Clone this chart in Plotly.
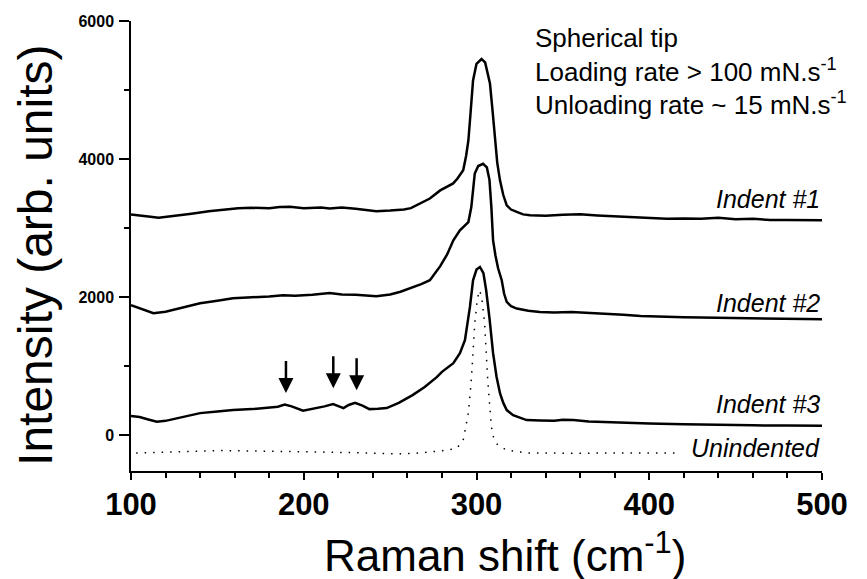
import plotly.graph_objects as go

# Raman spectra (intensity, arb. units) after indentation with a spherical tip
indent1_x = [100, 105, 110, 116, 125, 135, 145, 155, 162, 170, 180, 186, 192, 200, 210, 215, 222, 230,
             242, 250, 258, 262, 267, 273, 279, 283, 286.5, 289, 292.3, 294, 295.3, 296.5, 298, 300,
             302.9, 305, 307.8, 309.3, 310.7, 312, 313.6, 315.5, 317.5, 320, 323.3, 327, 331, 340,
             350, 360, 370, 380, 390, 400, 410, 420, 430, 440, 450, 460, 470, 480, 490, 500]
indent1_y = [3200, 3190, 3170, 3150, 3175, 3210, 3245, 3270, 3290, 3295, 3290, 3305, 3310, 3290, 3300,
             3285, 3300, 3280, 3245, 3255, 3270, 3290, 3350, 3430, 3547, 3600, 3648, 3720, 3840, 4050,
             4270, 4650, 5138, 5380, 5450, 5400, 5094, 4700, 4270, 3950, 3692, 3480, 3330, 3270, 3235,
             3200, 3186, 3180, 3195, 3200, 3185, 3170, 3160, 3145, 3135, 3140, 3135, 3150, 3130, 3135,
             3120, 3118, 3115, 3114]

indent2_x = [100, 105, 110, 113, 120, 130, 140, 150, 159, 170, 180, 188, 195, 205, 215, 222, 230, 242,
             250, 256, 262, 268, 273, 279, 283, 286.6, 290.4, 293, 295.3, 297, 299, 301, 303.8, 306,
             307.5, 308.6, 309.6, 311, 312.5, 314.6, 316, 317.5, 320, 323.3, 330, 336.7, 345, 355, 365,
             375, 385, 395, 405, 412, 420, 430, 440, 450, 460, 470, 480, 490, 500]
indent2_y = [1884, 1840, 1790, 1768, 1790, 1850, 1913, 1950, 1985, 2000, 2010, 2029, 2020, 2035, 2060,
             2040, 2035, 2015, 2040, 2080, 2130, 2190, 2246, 2450, 2620, 2824, 2969, 3030, 3089, 3306,
             3792, 3900, 3933, 3880, 3700, 3306, 2824, 2600, 2420, 2246, 2050, 1932, 1870, 1836, 1805,
             1787, 1780, 1785, 1775, 1760, 1745, 1730, 1720, 1711, 1712, 1705, 1700, 1695, 1693, 1690,
             1688, 1684, 1682]

indent3_x = [100, 105, 110, 115, 120, 130, 140, 150, 159, 170, 178.5, 185, 189, 193, 199.6, 205, 212,
             217, 223, 226, 229.7, 234, 238, 243, 248, 255, 263, 270, 277, 280, 286.6, 290.4, 293.3,
             296.2, 298, 300, 302, 304, 305.6, 307.5, 309.6, 311.6, 313.6, 315.5, 317.5, 321.2, 325,
             329, 337, 345, 350, 356, 365, 381, 400, 420, 441, 460, 480, 500]
indent3_y = [279, 265, 230, 197, 210, 270, 322, 345, 366, 380, 395, 415, 445, 420, 356, 380, 420, 453,
             395, 440, 472, 430, 380, 385, 395, 470, 583, 700, 843, 920, 1045, 1190, 1378, 1860, 2246,
             2400, 2438, 2350, 2101, 1700, 1190, 850, 611, 470, 366, 293, 260, 221, 215, 210, 225, 221,
             200, 182, 170, 160, 149, 145, 142, 139]

unindented_x = [103, 110, 120, 130, 140, 150, 160, 170, 180, 190, 200, 210, 220, 230, 240, 254, 265,
                275, 283, 288.7, 292.3, 295.3, 297, 299, 300.5, 301.8, 303, 304.7, 306.5, 308.6, 310,
                312.3, 317.5, 329, 340, 360, 380, 400, 415]
unindented_y = [-256, -250, -245, -235, -222, -220, -222, -225, -232, -237, -237, -240, -245, -250,
                -258, -270, -260, -240, -215, -185, -68, 322, 799, 1623, 1980, 2101, 2000, 1623, 799,
                125, -50, -140, -213, -256, -260, -258, -256, -255, -256]

# weak features marked with arrows on the Indent #3 spectrum
arrow_x = [189.7, 217.1, 230.6]
arrow_y = [612, 684, 655]

x_ticks = [100, 200, 300, 400, 500]
y_ticks = [0, 2000, 4000, 6000]

FONT = "Liberation Sans, Arial, sans-serif"

fig = go.Figure()
solid = dict(color="black", width=2.5)
fig.add_trace(go.Scatter(x=indent1_x, y=indent1_y, mode="lines", line=solid, name="Indent #1"))
fig.add_trace(go.Scatter(x=indent2_x, y=indent2_y, mode="lines", line=solid, name="Indent #2"))
fig.add_trace(go.Scatter(x=indent3_x, y=indent3_y, mode="lines", line=solid, name="Indent #3"))
fig.add_trace(go.Scatter(x=unindented_x, y=unindented_y, mode="lines",
                         line=dict(color="black", width=1.5, dash="1.5px,7px"), name="Unindented"))

annotations = []

# curve labels
for txt, yv in [("Indent #1", 3417), ("Indent #2", 1920), ("Indent #3", 453), ("Unindented", -176)]:
    annotations.append(dict(x=500, y=yv, xref="x", yref="y", text=f"<i>{txt}</i>", showarrow=False,
                            xanchor="right", yanchor="middle",
                            font=dict(family=FONT, size=25, color="black")))

# measurement conditions
for txt, yp in [("Spherical tip", 0.963),
                ("Loading rate &gt; 100 mN.s<sup>-1</sup>", 0.889),
                ("Unloading rate ~ 15 mN.s<sup>-1</sup>", 0.8156)]:
    annotations.append(dict(x=0.582, y=yp, xref="paper", yref="paper", text=txt, showarrow=False,
                            xanchor="left", yanchor="middle",
                            font=dict(family=FONT, size=26, color="black")))

# arrows
for xa, ya in zip(arrow_x, arrow_y):
    annotations.append(dict(x=xa, y=ya, xref="x", yref="y", text=" ", showarrow=True,
                            arrowhead=2, arrowsize=1.2, arrowwidth=2.5, arrowcolor="black",
                            ax=0, ay=-36, standoff=0, font=dict(size=4)))

# axis titles
annotations.append(dict(x=0.541, y=-0.18, xref="paper", yref="paper",
                        text="Raman shift (cm<sup>-1</sup>)", showarrow=False,
                        xanchor="center", yanchor="middle",
                        font=dict(family=FONT, size=44, color="black")))
annotations.append(dict(x=-0.139, y=0.48, xref="paper", yref="paper",
                        text="Intensity (arb. units)", showarrow=False, textangle=-90,
                        xanchor="center", yanchor="middle",
                        font=dict(family=FONT, size=48, color="black")))

fig.update_layout(
    width=867, height=579,
    margin=dict(l=131, r=45, t=21, b=108),
    paper_bgcolor="white", plot_bgcolor="white",
    showlegend=False,
    annotations=annotations,
)

fig.update_xaxes(
    range=[100, 500], tickvals=x_ticks, ticktext=[f"<b>{v}</b>" for v in x_ticks],
    showline=True, linecolor="black", linewidth=1.5, mirror=False,
    ticks="outside", ticklen=7, tickwidth=1.5, tickcolor="black",
    minor=dict(dtick=20, tick0=100, ticks="outside", ticklen=5, tickwidth=1.5, tickcolor="black"),
    showgrid=False, zeroline=False, ticklabelstandoff=-2,
    tickfont=dict(family=FONT, size=31, color="black"),
)
fig.update_yaxes(
    range=[-516, 6000], tickvals=y_ticks, ticktext=[f"<b>{v}</b>" for v in y_ticks],
    showline=True, linecolor="black", linewidth=1.5, mirror=False,
    ticks="outside", ticklen=10, tickwidth=1.5, tickcolor="black",
    minor=dict(dtick=1000, tick0=0, ticks="outside", ticklen=5, tickwidth=1.5, tickcolor="black"),
    showgrid=False, zeroline=False, ticklabelstandoff=2,
    tickfont=dict(family=FONT, size=16, color="black"),
)

fig.write_html("out.html")
